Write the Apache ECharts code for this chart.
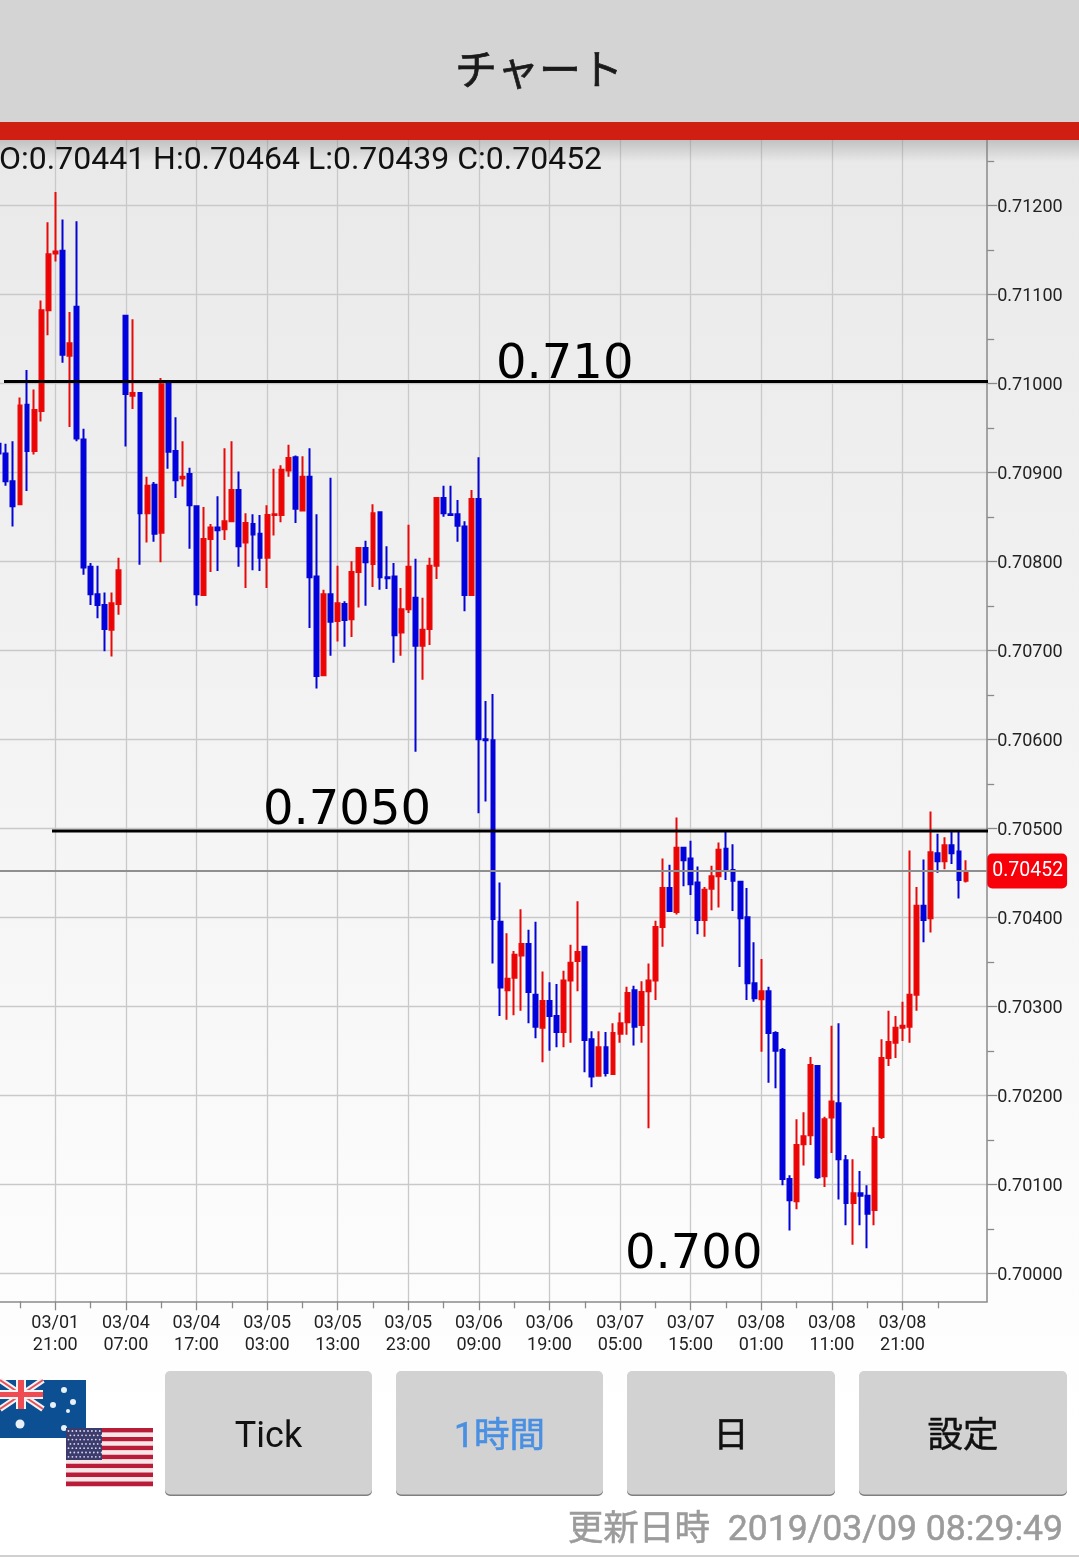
<!DOCTYPE html>
<html><head><meta charset="utf-8">
<style>html,body{margin:0;padding:0;background:#fff}#c{width:1079px;height:1557px}</style>
<script src="https://cdn.jsdelivr.net/npm/echarts@6/dist/echarts.min.js"></script>
</head><body><div id="c"></div>
<script>
const opens=[0.70932,0.70921,0.70890,0.70864,0.70976,0.70924,0.70969,0.71082,0.71146,0.71149,0.71031,0.71086,0.70937,0.70794,0.70763,0.70751,0.70723,0.70752,0.71076,0.70986,0.70989,0.70854,0.70886,0.70832,0.71002,0.70924,0.70893,0.70898,0.70862,0.70762,0.70825,0.70838,0.70836,0.70845,0.70880,0.70821,0.70842,0.70831,0.70804,0.70852,0.70852,0.70902,0.70917,0.70857,0.70895,0.70783,0.70672,0.70763,0.70733,0.70752,0.70735,0.70788,0.70815,0.70797,0.70855,0.70782,0.70783,0.70720,0.70746,0.70759,0.70705,0.70724,0.70795,0.70871,0.70853,0.70853,0.70839,0.70762,0.70870,0.70600,0.70599,0.70395,0.70318,0.70332,0.70357,0.70370,0.70313,0.70276,0.70306,0.70289,0.70271,0.70329,0.70351,0.70367,0.70263,0.70222,0.70254,0.70224,0.70269,0.70282,0.70318,0.70279,0.70317,0.70329,0.70389,0.70433,0.70406,0.70478,0.70466,0.70439,0.70397,0.70432,0.70446,0.70477,0.70453,0.70440,0.70400,0.70326,0.70308,0.70317,0.70270,0.70251,0.70106,0.70081,0.70145,0.70155,0.70233,0.70109,0.70175,0.70191,0.70127,0.70079,0.70090,0.70087,0.70071,0.70153,0.70242,0.70259,0.70276,0.70277,0.70313,0.70413,0.70399,0.70472,0.70463,0.70481,0.70474,0.70441];
const highs=[0.70935,0.70932,0.70935,0.70984,0.71015,0.70993,0.71093,0.71181,0.71215,0.71184,0.71080,0.71182,0.70949,0.70798,0.70795,0.70765,0.70765,0.70804,0.71076,0.71072,0.70989,0.70895,0.70889,0.71006,0.71002,0.70962,0.70935,0.70905,0.70862,0.70861,0.70842,0.70873,0.70927,0.70935,0.70901,0.70854,0.70853,0.70852,0.70863,0.70904,0.70908,0.70931,0.70919,0.70918,0.70927,0.70853,0.70768,0.70894,0.70795,0.70755,0.70800,0.70815,0.70823,0.70864,0.70855,0.70817,0.70798,0.70770,0.70841,0.70803,0.70759,0.70804,0.70872,0.70885,0.70885,0.70869,0.70845,0.70880,0.70917,0.70643,0.70651,0.70439,0.70382,0.70362,0.70409,0.70386,0.70395,0.70339,0.70327,0.70325,0.70340,0.70369,0.70418,0.70367,0.70272,0.70272,0.70271,0.70281,0.70293,0.70322,0.70323,0.70328,0.70348,0.70396,0.70466,0.70459,0.70512,0.70478,0.70486,0.70457,0.70434,0.70458,0.70484,0.70496,0.70482,0.70441,0.70433,0.70372,0.70353,0.70322,0.70272,0.70253,0.70110,0.70173,0.70181,0.70243,0.70233,0.70176,0.70278,0.70281,0.70133,0.70128,0.70115,0.70099,0.70164,0.70263,0.70295,0.70289,0.70305,0.70475,0.70434,0.70465,0.70519,0.70494,0.70490,0.70496,0.70496,0.70464];
const lows=[0.70918,0.70885,0.70839,0.70863,0.70879,0.70920,0.70957,0.71054,0.71137,0.71023,0.70951,0.70935,0.70785,0.70751,0.70736,0.70699,0.70693,0.70740,0.70929,0.70971,0.70796,0.70821,0.70822,0.70799,0.70904,0.70871,0.70884,0.70814,0.70750,0.70761,0.70788,0.70789,0.70824,0.70845,0.70794,0.70770,0.70790,0.70789,0.70770,0.70829,0.70844,0.70895,0.70843,0.70857,0.70725,0.70657,0.70672,0.70694,0.70710,0.70704,0.70715,0.70748,0.70750,0.70771,0.70768,0.70769,0.70686,0.70694,0.70742,0.70586,0.70667,0.70706,0.70780,0.70850,0.70851,0.70822,0.70744,0.70761,0.70517,0.70530,0.70348,0.70289,0.70285,0.70290,0.70295,0.70281,0.70264,0.70237,0.70250,0.70254,0.70254,0.70259,0.70317,0.70226,0.70209,0.70222,0.70221,0.70224,0.70259,0.70268,0.70256,0.70259,0.70163,0.70307,0.70367,0.70406,0.70403,0.70435,0.70425,0.70381,0.70378,0.70408,0.70411,0.70442,0.70407,0.70344,0.70307,0.70305,0.70249,0.70214,0.70208,0.70099,0.70048,0.70072,0.70121,0.70144,0.70106,0.70097,0.70135,0.70083,0.70054,0.70032,0.70054,0.70028,0.70054,0.70151,0.70233,0.70242,0.70261,0.70259,0.70295,0.70372,0.70383,0.70450,0.70454,0.70460,0.70421,0.70439];
const closes=[0.70921,0.70890,0.70862,0.70975,0.70924,0.70970,0.71082,0.71145,0.71148,0.71032,0.71045,0.70938,0.70793,0.70763,0.70751,0.70724,0.70753,0.70790,0.70988,0.70989,0.70854,0.70885,0.70831,0.70999,0.70923,0.70891,0.70895,0.70863,0.70763,0.70825,0.70838,0.70835,0.70845,0.70880,0.70817,0.70843,0.70830,0.70804,0.70852,0.70853,0.70903,0.70916,0.70859,0.70895,0.70782,0.70671,0.70763,0.70732,0.70753,0.70734,0.70788,0.70815,0.70799,0.70854,0.70782,0.70781,0.70717,0.70746,0.70794,0.70705,0.70723,0.70795,0.70871,0.70854,0.70852,0.70840,0.70762,0.70870,0.70600,0.70599,0.70398,0.70321,0.70331,0.70358,0.70370,0.70316,0.70277,0.70306,0.70289,0.70271,0.70329,0.70349,0.70361,0.70262,0.70221,0.70254,0.70225,0.70270,0.70281,0.70315,0.70277,0.70316,0.70329,0.70389,0.70433,0.70407,0.70478,0.70464,0.70437,0.70397,0.70431,0.70446,0.70476,0.70454,0.70441,0.70399,0.70326,0.70309,0.70317,0.70270,0.70250,0.70106,0.70082,0.70144,0.70154,0.70234,0.70108,0.70173,0.70193,0.70128,0.70079,0.70090,0.70087,0.70067,0.70153,0.70242,0.70260,0.70276,0.70278,0.70313,0.70413,0.70397,0.70473,0.70463,0.70481,0.70472,0.70442,0.70452];
const lastPrice=0.70452;
const majorTicksY=[0.700,0.701,0.702,0.703,0.704,0.705,0.706,0.707,0.708,0.709,0.710,0.711,0.712];
const minorTicksY=[0.7005,0.7015,0.7025,0.7035,0.7045,0.7055,0.7065,0.7075,0.7085,0.7095,0.7105,0.7115,0.7125];
const hourRuns=[['03/01',13,23],['03/02',0,6],['03/04',7,23],['03/05',0,23],['03/06',0,23],['03/07',0,23],['03/08',0,23],['03/09',0,6]];
const annotations=[{price:0.71002,text:'0.710',x0:4,tx:496,ty:366},{price:0.70497,text:'0.7050',x0:52,tx:263,ty:812},{price:null,text:'0.700',x0:0,tx:625,ty:1256}];
const buttons=[{t:'Tick',x:165,w:207,c:'#111',s:0},{t:'1時間',x:396,w:207,c:'#4a90e2',s:0.6},{t:'日',x:627,w:208,c:'#111',s:0.5},{t:'設定',x:859,w:208,c:'#111',s:0.5}];

const categories=[];
hourRuns.forEach(([d,a,b])=>{for(let h=a;h<=b;h++)categories.push(d+'\n'+String(h).padStart(2,'0')+':00');});
categories.push('','','');
const rows=opens.map((o,i)=>[o,closes[i],lows[i],highs[i]]);
const UI='Roboto,"Noto Sans CJK JP",sans-serif';
const chart=echarts.init(document.getElementById('c'),null,{renderer:'canvas'});
const tickIdx=i=>i%10===8&&i<130;
const minorIdx=i=>i%10===3&&i<138;
const axisGray='#8a8a8a';
chart.setOption({
  animation:false,
  backgroundColor:{type:'linear',x:0,y:0,x2:0,y2:1,colorStops:[{offset:0,color:'#e8e8e8'},{offset:0.09,color:'#e9e9e9'},{offset:0.92,color:'#ffffff'},{offset:1,color:'#ffffff'}]},
  grid:{left:-1.2,top:140,width:988.4,height:1161.3,containLabel:false,outerBoundsMode:'none'},
  xAxis:[
   {type:'category',boundaryGap:false,data:categories,position:'bottom',
    axisLine:{lineStyle:{color:axisGray,width:1.5}},
    axisTick:{interval:(i)=>tickIdx(i),length:9,lineStyle:{color:axisGray,width:1.3}},
    axisLabel:{interval:(i)=>tickIdx(i),color:'#222',fontFamily:'Roboto',fontSize:18,lineHeight:22,margin:11,hideOverlap:false},
    splitLine:{show:true,interval:(i)=>tickIdx(i),lineStyle:{color:'#c9c9c9',width:1.3}}},
   {type:'category',boundaryGap:false,data:categories,position:'bottom',
    axisLine:{show:false},
    axisTick:{interval:(i)=>minorIdx(i),length:7,lineStyle:{color:axisGray,width:1.3}},
    axisLabel:{show:false},splitLine:{show:false}}
  ],
  yAxis:[
   {type:'value',position:'right',min:0.699685,max:0.712734,scale:true,
    axisLine:{show:true,lineStyle:{color:axisGray,width:1.5}},
    axisTick:{show:true,length:10,customValues:majorTicksY,lineStyle:{color:axisGray,width:1.3}},
    axisLabel:{customValues:majorTicksY,formatter:v=>'{a|'+v.toFixed(5)+'}',rich:{a:{color:'#222',fontFamily:'Roboto',fontSize:18,padding:[5,0,0,0]}},margin:10,align:'left',verticalAlign:'middle'},
    splitLine:{show:true,lineStyle:{color:'#c9c9c9',width:1.3}}},
   {type:'value',position:'right',min:0.699685,max:0.712734,scale:true,
    axisLine:{show:false},
    axisTick:{show:true,length:7,customValues:minorTicksY,lineStyle:{color:axisGray,width:1.3}},
    axisLabel:{show:false},splitLine:{show:false}}
  ],
  series:[{type:'candlestick',name:'AUD/USD',data:rows,xAxisIndex:0,yAxisIndex:0,barWidth:4.4,clip:true,
    itemStyle:{color:'#f00000',color0:'#0000e6',borderColor:'#e80a0a',borderColor0:'#0404d4',borderWidth:2},
    markLine:{silent:true,symbol:'none',precision:5,animation:false,
      lineStyle:{color:'#8f8f8f',width:2,type:'solid'},
      label:{show:true,position:'end',distance:0,formatter:()=>lastPrice.toFixed(5),color:'#fff',backgroundColor:'#f8000a',borderRadius:5,padding:[8,4,7,5],fontFamily:'Roboto',fontSize:19.5},
      data:[{yAxis:lastPrice}]}
  }]
});
const yPx=v=>chart.convertToPixel({yAxisIndex:0},v);
const g=[];
const rect=(x,y,w,h,fill,z,r)=>g.push({type:'rect',z:z||50,silent:true,shape:{x,y,width:w,height:h,r:r||0},style:{fill}});
const text=(x,y,t,size,fill,align,family,z,sw)=>g.push({type:'text',z:z||60,silent:true,x,y,style:{text:t,fontSize:size,fill,fontFamily:family||UI,align:align||'left',verticalAlign:'middle',stroke:sw?fill:null,lineWidth:sw||0}});
// header
rect(0,0,1079,122,'#d4d4d4');
rect(0,122,1079,18,'#d01f12');
g.push({type:'rect',z:50,silent:true,shape:{x:0,y:140,width:1079,height:22},style:{fill:{type:'linear',x:0,y:0,x2:0,y2:1,colorStops:[{offset:0,color:'rgba(120,120,120,0.35)'},{offset:1,color:'rgba(120,120,120,0)'}]}}});
text(539,74,'チャート',42,'#1a1a1a','center',null,60,0.7);
const n=opens.length-1;
text(-1,161,`O:${opens[n].toFixed(5)} H:${highs[n].toFixed(5)} L:${lows[n].toFixed(5)} C:${closes[n].toFixed(5)}`,32,'#111','left');
// annotations
annotations.forEach(a=>{
  if(a.price!==null){const y=yPx(a.price);g.push({type:'line',z:40,silent:true,shape:{x1:a.x0,y1:y,x2:988,y2:y},style:{stroke:'#000',lineWidth:3}});}
  text(a.tx,a.ty,a.text,48,'#000','left','"DejaVu Sans"',41);
});
// buttons
buttons.forEach(b=>{
  rect(b.x,1373,b.w,123,'#7f7f7f',50,5);
  rect(b.x,1371,b.w,123.5,'#d2d2d2',51,5);
  text(b.x+b.w/2,1438,b.t,b.t==='Tick'?36:35.5,b.c,'center',null,60,b.s);
});
// footer
text(1063,1531,'更新日時  2019/03/09 08:29:49',35.6,'#9b9b9b','right',null,60,0.5);
rect(0,1555,1079,2,'#d0d0d0');
// AU flag
rect(0,1380,86,58,'#0d4f93',50);
g.push({type:'line',z:51,silent:true,shape:{x1:0,y1:1380,x2:43,y2:1409},style:{stroke:'#f4f4f4',lineWidth:6}});
g.push({type:'line',z:51,silent:true,shape:{x1:0,y1:1409,x2:43,y2:1380},style:{stroke:'#f4f4f4',lineWidth:6}});
g.push({type:'line',z:51,silent:true,shape:{x1:0,y1:1380,x2:43,y2:1409},style:{stroke:'#e8505a',lineWidth:2}});
g.push({type:'line',z:51,silent:true,shape:{x1:0,y1:1409,x2:43,y2:1380},style:{stroke:'#e8505a',lineWidth:2}});
rect(16,1380,10,29,'#f4f4f4',52);rect(0,1390,43,9,'#f4f4f4',52);
rect(18,1380,6,29,'#ee4b52',53);rect(0,1392,43,5,'#ee4b52',53);
[[20,1424,4.5],[64,1390,3],[73,1402,3],[53,1405,3],[68,1411,2],[64,1428,3]].forEach(([x,y,r])=>g.push({type:'circle',z:52,silent:true,shape:{cx:x,cy:y,r},style:{fill:'#e8f0f8'}}));
// US flag
for(let i=0;i<13;i++)rect(66,1428+i*58/13,87,58/13+0.2,i%2?'#f6e6e8':'#b81c38',54);
rect(66,1428,36,32,'#3c3b6e',55);
for(let r=0;r<7;r++)for(let c=0;c<9;c++)g.push({type:'circle',z:56,silent:true,shape:{cx:68.5+c*3.9+(r%2?1.9:0),cy:1431+r*4.3,r:0.9},style:{fill:'#d8d8e8'}});
chart.setOption({graphic:{elements:g}});
</script></body></html>
